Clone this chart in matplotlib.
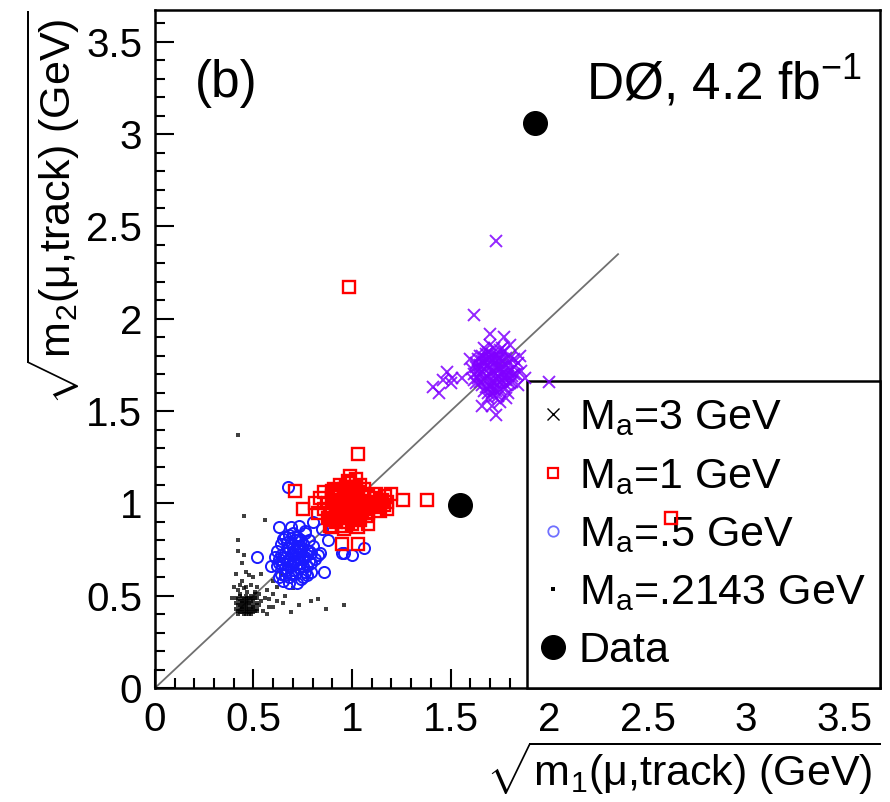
import matplotlib
matplotlib.use("Agg")
from matplotlib import pyplot as plt
from matplotlib.lines import Line2D
from matplotlib.ticker import MultipleLocator, FuncFormatter

plt.rcParams['font.family'] = ['Liberation Sans', 'DejaVu Sans']
plt.rcParams['mathtext.fontset'] = 'custom'
plt.rcParams['mathtext.rm'] = 'Liberation Sans'
plt.rcParams['mathtext.it'] = 'Liberation Sans:italic'

# M_a = 3 GeV (violet crosses)
m3_x = [1.62, 1.63, 1.64, 1.65, 1.66, 1.66, 1.67, 1.68, 1.68, 1.69, 1.70, 1.70, 1.71, 1.71,
        1.72, 1.72, 1.73, 1.73, 1.74, 1.74, 1.75, 1.75, 1.76, 1.76, 1.77, 1.77, 1.78, 1.78,
        1.79, 1.80, 1.80, 1.81, 1.82, 1.83, 1.69, 1.72, 1.67, 1.74, 1.70, 1.65, 1.64, 1.61,
        1.68, 1.73, 1.76, 1.79, 1.82, 1.70, 1.67, 1.63, 1.75, 1.71, 1.78, 1.84, 1.86, 1.85,
        1.63, 1.65, 1.67, 1.69, 1.71, 1.73, 1.75, 1.77, 1.79, 1.81, 1.64, 1.66, 1.68, 1.70,
        1.72, 1.74, 1.76, 1.78, 1.80, 1.82, 1.65, 1.67, 1.69, 1.71, 1.73, 1.75, 1.77, 1.79,
        1.66, 1.68, 1.70, 1.72, 1.74, 1.76, 1.78, 1.69, 1.71, 1.73, 1.75, 1.62,
        1.73, 1.62, 1.70, 1.80, 1.60, 1.48, 1.51, 1.46, 1.50, 1.41, 1.44, 1.73, 1.66, 1.84,
        2.00, 1.56, 1.88, 1.77]
m3_y = [1.70, 1.74, 1.78, 1.66, 1.72, 1.80, 1.76, 1.69, 1.63, 1.82, 1.74, 1.67, 1.78, 1.60,
        1.71, 1.84, 1.65, 1.75, 1.69, 1.80, 1.62, 1.73, 1.77, 1.67, 1.71, 1.82, 1.64, 1.75,
        1.69, 1.79, 1.72, 1.66, 1.74, 1.70, 1.57, 1.58, 1.61, 1.58, 1.63, 1.75, 1.68, 1.73,
        1.78, 1.80, 1.84, 1.60, 1.78, 1.86, 1.84, 1.65, 1.55, 1.53, 1.57, 1.64, 1.72, 1.80,
        1.76, 1.70, 1.73, 1.78, 1.64, 1.68, 1.79, 1.68, 1.76, 1.69, 1.72, 1.64, 1.74, 1.70,
        1.66, 1.73, 1.70, 1.79, 1.65, 1.70, 1.80, 1.67, 1.75, 1.72, 1.77, 1.66, 1.63, 1.72,
        1.77, 1.81, 1.79, 1.62, 1.77, 1.74, 1.67, 1.60, 1.81, 1.61, 1.83, 1.67,
        2.42, 2.02, 1.92, 1.86, 1.78, 1.71, 1.68, 1.67, 1.65, 1.63, 1.60, 1.48, 1.53, 1.76,
        1.66, 1.68, 1.68, 1.90]

# M_a = 1 GeV (red squares)
m1_x = [0.88, 0.88, 0.90, 0.90, 0.92, 0.92, 0.93, 0.94, 0.95, 0.95, 0.96, 0.97, 0.97, 0.98,
        0.99, 1.00, 1.00, 1.01, 1.02, 1.02, 1.03, 1.04, 1.04, 1.05, 1.06, 1.06, 1.07, 1.08,
        0.98, 0.94, 0.91, 0.89, 0.96, 1.03, 1.08, 1.10, 1.12, 1.13, 1.15, 1.16, 1.18, 1.12,
        1.14, 0.86, 0.99, 1.02, 0.93, 1.00, 0.97, 1.04,
        0.89, 0.91, 0.93, 0.95, 0.97, 0.99, 1.01, 1.03, 1.05, 1.07, 0.90, 0.92, 0.94, 0.96,
        0.98, 1.00, 1.02, 1.04, 1.06, 0.91, 0.93, 0.95, 0.97, 0.99, 1.01, 1.03, 1.05, 1.11,
        1.14, 1.17,
        0.985, 1.03, 0.71, 0.75, 0.81, 0.83, 0.86, 0.985, 1.26, 1.38, 1.18, 0.95, 1.03, 0.90,
        1.08, 2.62, 0.84, 1.20]
m1_y = [0.92, 1.00, 0.96, 1.04, 0.90, 0.99, 1.06, 0.94, 1.02, 0.88, 0.98, 1.09, 0.92, 1.04,
        0.96, 1.00, 0.89, 1.07, 0.94, 1.02, 0.98, 1.10, 0.91, 1.05, 0.97, 1.01, 0.93, 1.04,
        1.12, 1.10, 1.08, 0.88, 0.86, 0.87, 0.89, 0.99, 1.03, 0.98, 1.02, 0.99, 1.01, 1.05,
        0.96, 0.97, 1.15, 1.13, 0.97, 0.93, 1.01, 0.99,
        0.95, 1.01, 0.93, 0.98, 1.05, 1.03, 0.97, 1.06, 0.95, 1.00, 1.07, 0.95, 1.05, 1.08,
        0.90, 1.06, 1.09, 0.96, 1.08, 0.91, 1.02, 0.96, 0.94, 1.09, 0.92, 1.03, 1.01, 1.01,
        1.00, 1.04,
        2.17, 1.27, 1.07, 0.97, 1.00, 0.95, 1.06, 1.11, 1.02, 1.02, 0.97, 0.78, 0.78, 0.87,
        0.95, 0.92, 1.03, 1.05]

# M_a = .5 GeV (blue circles)
m05_x = [0.62, 0.62, 0.63, 0.64, 0.64, 0.65, 0.66, 0.66, 0.67, 0.67, 0.68, 0.68, 0.69, 0.69,
         0.70, 0.70, 0.71, 0.71, 0.72, 0.72, 0.73, 0.73, 0.74, 0.74, 0.75, 0.75, 0.76, 0.76,
         0.77, 0.77, 0.78, 0.78, 0.79, 0.79, 0.80, 0.65, 0.72, 0.69, 0.61, 0.81, 0.70, 0.73,
         0.66,
         0.63, 0.65, 0.67, 0.69, 0.71, 0.73, 0.75, 0.77, 0.79, 0.64, 0.66, 0.68, 0.70, 0.72,
         0.74, 0.76, 0.78, 0.65, 0.67, 0.69, 0.71, 0.73, 0.75, 0.77, 0.68, 0.70, 0.72, 0.74,
         0.675, 0.63, 0.76, 0.83, 0.52, 0.86, 0.68, 0.63, 0.85, 0.95, 0.96, 1.00, 1.06, 0.84,
         0.80, 0.59, 0.88]
m05_y = [0.66, 0.74, 0.70, 0.62, 0.78, 0.68, 0.73, 0.82, 0.64, 0.76, 0.70, 0.60, 0.79, 0.66,
         0.73, 0.84, 0.69, 0.62, 0.77, 0.71, 0.65, 0.81, 0.74, 0.68, 0.60, 0.78, 0.71, 0.84,
         0.66, 0.75, 0.69, 0.80, 0.63, 0.73, 0.77, 0.58, 0.57, 0.87, 0.71, 0.70, 0.76, 0.88,
         0.61,
         0.68, 0.71, 0.79, 0.72, 0.75, 0.70, 0.66, 0.72, 0.68, 0.72, 0.65, 0.76, 0.64, 0.67,
         0.80, 0.63, 0.74, 0.81, 0.69, 0.62, 0.80, 0.77, 0.71, 0.61, 0.83, 0.68, 0.82, 0.59,
         1.09, 0.87, 0.85, 0.72, 0.71, 0.63, 0.57, 0.60, 0.86, 0.73, 0.73, 0.72, 0.76, 0.73,
         0.90, 0.66, 0.80]

# M_a = .2143 GeV (black dots)
m02_x = [0.42, 0.42, 0.42, 0.43, 0.43, 0.44, 0.44, 0.44, 0.45, 0.45, 0.46, 0.46, 0.46, 0.47,
         0.47, 0.47, 0.48, 0.48, 0.49, 0.49, 0.49, 0.50, 0.50, 0.50, 0.51, 0.51, 0.43, 0.45,
         0.48, 0.44, 0.42, 0.43, 0.45, 0.44, 0.47, 0.46,
         0.43, 0.44, 0.45, 0.46, 0.47, 0.48, 0.49, 0.50, 0.43, 0.45, 0.47, 0.49, 0.51, 0.44,
         0.46, 0.48, 0.50, 0.41, 0.41, 0.41, 0.52, 0.52, 0.52, 0.46, 0.49, 0.43, 0.51, 0.42,
         0.42, 0.45, 0.56, 0.42, 0.42, 0.45, 0.44, 0.48, 0.79, 0.83, 0.87, 0.96, 0.69, 0.62,
         0.58, 0.53, 0.55, 0.56, 0.53, 0.52, 0.57, 0.60, 0.54, 0.58, 0.52, 0.60, 0.65, 0.50,
         0.54, 0.40, 0.41, 0.39, 0.62, 0.57, 0.73, 0.66, 0.51, 0.49, 0.46, 0.60, 0.64, 0.70]
m02_y = [0.42, 0.45, 0.48, 0.43, 0.47, 0.41, 0.44, 0.49, 0.42, 0.46, 0.44, 0.48, 0.50, 0.41,
         0.45, 0.47, 0.43, 0.49, 0.42, 0.46, 0.48, 0.44, 0.47, 0.41, 0.45, 0.49, 0.50, 0.40,
         0.40, 0.46, 0.53, 0.56, 0.54, 0.58, 0.52, 0.55,
         0.45, 0.43, 0.48, 0.42, 0.49, 0.46, 0.44, 0.49, 0.41, 0.44, 0.43, 0.50, 0.42, 0.47,
         0.46, 0.41, 0.43, 0.43, 0.46, 0.49, 0.43, 0.46, 0.49, 0.40, 0.40, 0.51, 0.51, 0.40,
         1.37, 0.93, 0.91, 0.80, 0.74, 0.72, 0.68, 0.61, 0.47, 0.48, 0.43, 0.45, 0.41, 0.47,
         0.48, 0.45, 0.42, 0.49, 0.51, 0.55, 0.53, 0.51, 0.47, 0.44, 0.42, 0.44, 0.46, 0.60,
         0.62, 0.55, 0.62, 0.49, 0.55, 0.40, 0.45, 0.50, 0.52, 0.56, 0.63, 0.58, 0.62, 0.54]

# observed events
data_x = [1.93, 1.55]
data_y = [3.06, 0.99]

diag = [0.0, 2.35]

fig = plt.figure(figsize=(8.9, 8.02), dpi=100)
ax = fig.add_axes([0.174, 0.142, 0.815, 0.845])

ax.plot(diag, diag, color='#707070', lw=1.3, zorder=2)
ax.plot(m02_x, m02_y, ls='none', marker='s', ms=2.8, mew=0, color='black', alpha=0.75, zorder=3)
ax.plot(m05_x, m05_y, ls='none', marker='o', ms=8, mfc='none', mec='#1a1aff', mew=1.4, zorder=4)
ax.plot(m1_x, m1_y, ls='none', marker='s', ms=8, mfc='none', mec='red', mew=1.7, zorder=5)
ax.plot(m3_x, m3_y, ls='none', marker='x', ms=8.5, color='#8000ff', mew=1.4, alpha=0.85, zorder=6)
ax.plot(data_x, data_y, ls='none', marker='o', ms=17, color='black', zorder=7)

ax.set_xlim(0, 3.68)
ax.set_ylim(0, 3.67)
for axis in (ax.xaxis, ax.yaxis):
    axis.set_major_locator(MultipleLocator(0.5))
    axis.set_minor_locator(MultipleLocator(0.1))
    axis.set_major_formatter(FuncFormatter(lambda v, p: '%g' % v))
ax.tick_params(which='both', direction='in', top=False, right=False, width=1.5, labelsize=29)
ax.tick_params(which='major', length=14, pad=9)
ax.tick_params(which='minor', length=7)
for s in ax.spines.values():
    s.set_linewidth(1.8)

ax.set_xlabel(r'$\sqrt{\mathrm{m_1(\mu{,}track)\ (GeV)}}$', fontsize=31, loc='right')
ax.xaxis.set_label_coords(1.0, -0.075)
ax.set_ylabel(r'$\sqrt{\mathrm{m_2(\mu{,}track)\ (GeV)}}$', fontsize=31, loc='top')
ax.yaxis.set_label_coords(-0.1, 1.0)

ax.text(0.055, 0.892, '(b)', transform=ax.transAxes, fontsize=37, va='center', ha='left')
ax.text(0.975, 0.894, 'DØ, 4.2 fb$^{-1}$', transform=ax.transAxes, fontsize=37,
        va='center', ha='right')

handles = [
    Line2D([], [], ls='none', marker='x', ms=8, color='black', mew=1.0),
    Line2D([], [], ls='none', marker='s', ms=7.5, mfc='none', mec='red', mew=1.6),
    Line2D([], [], ls='none', marker='o', ms=7.5, mfc='none', mec='#7070ff', mew=1.3),
    Line2D([], [], ls='none', marker='s', ms=2.2, mew=0, color='black'),
    Line2D([], [], ls='none', marker='o', ms=17, color='black'),
]
labels = ['M$_\\mathrm{a}$=3 GeV', 'M$_\\mathrm{a}$=1 GeV', 'M$_\\mathrm{a}$=.5 GeV',
          'M$_\\mathrm{a}$=.2143 GeV', 'Data']
leg = ax.legend(handles, labels, loc='lower left', bbox_to_anchor=(0.513, 0.0, 0.487, 0.462),
                mode='expand', fontsize=31, frameon=True, fancybox=False, framealpha=1,
                edgecolor='black', handlelength=0.4, handletextpad=0.4, borderpad=0.4,
                labelspacing=0.42, borderaxespad=0)
leg.get_frame().set_linewidth(1.8)
leg.set_zorder(2.5)

plt.savefig('out.png', dpi=100)
